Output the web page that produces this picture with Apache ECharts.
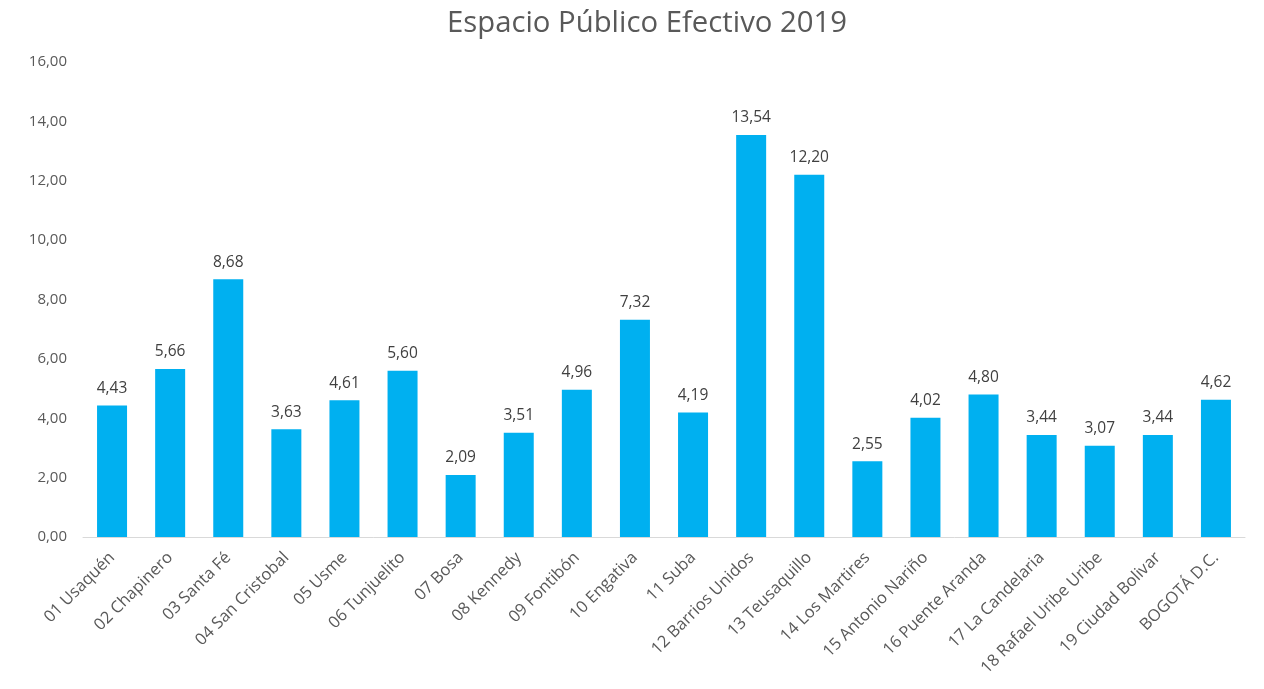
<!DOCTYPE html>
<html><head><meta charset="utf-8">
<script src="https://cdn.jsdelivr.net/npm/echarts@6/dist/echarts.min.js"></script>
<style>html,body{margin:0;padding:0;background:#fff}#c{width:1264px;height:689px}</style>
</head><body><div id="c"></div>
<script>
const categories = ["01 Usaquén","02 Chapinero","03 Santa Fé","04 San Cristobal","05 Usme","06 Tunjuelito","07 Bosa","08 Kennedy","09 Fontibón","10 Engativa","11 Suba","12 Barrios Unidos","13 Teusaquillo","14 Los Martires","15 Antonio Nariño","16 Puente Aranda","17 La Candelaria","18 Rafael Uribe Uribe","19 Ciudad Bolivar","BOGOTÁ D.C."];
const values = [4.43,5.66,8.68,3.63,4.61,5.60,2.09,3.51,4.96,7.32,4.19,13.54,12.20,2.55,4.02,4.80,3.44,3.07,3.44,4.62];
const fmt = v => v.toFixed(2).replace('.', ',');
const chart = echarts.init(document.getElementById('c'));
const font = '"Open Sans", "Noto Sans", sans-serif';
chart.setOption({
  animation:false,
  title:{text:'Espacio Público Efectivo 2019',left:642,textAlign:'center',top:4,textStyle:{fontFamily:font,fontSize:29.3,fontWeight:'normal',color:'#595959'}},
  grid:{left:83,right:19,top:62,bottom:152},
  xAxis:{type:'category',data:categories,axisTick:{show:false},axisLine:{lineStyle:{color:'#d9d9d9',width:1}},
    axisLabel:{rotate:45,interval:0,fontFamily:font,fontSize:16.5,color:'#595959',margin:18}},
  yAxis:{type:'value',min:0,max:16,interval:2,splitLine:{show:false},axisLine:{show:false},axisTick:{show:false},
    axisLabel:{formatter:v=>fmt(v),fontFamily:font,fontSize:15,color:'#595959',margin:16}},
  series:[{type:'bar',data:values,barWidth:30,itemStyle:{color:'#00B0F0'},
    label:{show:true,position:'top',formatter:p=>fmt(p.value),fontFamily:font,fontSize:15.5,color:'#404040',distance:9}}]
});
</script></body></html>
